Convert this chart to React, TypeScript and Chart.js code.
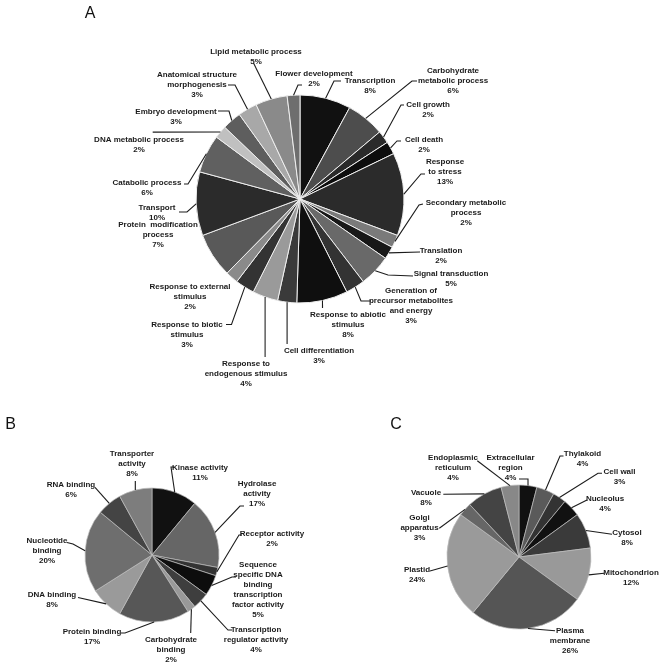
import React, { useEffect, useRef } from "react";
import { Chart, registerables } from "chart.js";

Chart.register(...registerables);

const W = 661;
const H = 668;

// ---------- Panel A : biological process ----------
const aCategories = [
  "Transcription",
  "Carbohydrate\nmetabolic process",
  "Cell growth",
  "Cell death",
  "Response\nto stress",
  "Secondary metabolic\nprocess",
  "Translation",
  "Signal transduction",
  "Generation of\nprecursor metabolites\nand energy",
  "Response to abiotic\nstimulus",
  "Cell differentiation",
  "Response to\nendogenous stimulus",
  "Response to biotic\nstimulus",
  "Response to external\nstimulus",
  "Protein  modification\nprocess",
  "Transport",
  "Catabolic process",
  "DNA metabolic process",
  "Embryo development",
  "Anatomical structure\nmorphogenesis",
  "Lipid metabolic process",
  "Flower development",
];
const aValues = [8, 6, 2, 2, 13, 2, 2, 5, 3, 8, 3, 4, 3, 2, 7, 10, 6, 2, 3, 3, 5, 2];
const aColors = [
  "#111111", "#4d4d4d", "#2a2a2a", "#0d0d0d", "#2b2b2b", "#7a7a7a", "#181818",
  "#696969", "#333333", "#0f0f0f", "#3a3a3a", "#9a9a9a", "#333333", "#8a8a8a",
  "#595959", "#2b2b2b", "#606060", "#c0c0c0", "#5e5e5e", "#a8a8a8", "#8a8a8a",
  "#6e6e6e",
];
// layout: label text centre (first line) and leader waypoints (page px)
const aLabelPos: number[][] = [
  [370, 80], [453, 70], [428, 104], [424, 139], [445, 161], [466, 202], [441, 250],
  [451, 273], [411, 290], [348, 314], [319, 350], [246, 363], [187, 324], [190, 286],
  [158, 224], [157, 207], [147, 182], [139, 139], [176, 111], [197, 74], [256, 51],
  [314, 73],
];
const aLeaders: number[][][] = [
  [[334, 81], [341, 81]],
  [[412, 81], [417, 81]],
  [[401, 105], [404, 105]],
  [[397, 141], [401, 141]],
  [[421, 174], [425, 174]],
  [[419, 205], [423, 204]],
  [[420, 252]],
  [[388, 275], [413, 276]],
  [[361, 301], [371, 301]],
  [[322.5, 308]],
  [[287.1, 344]],
  [[265.1, 357]],
  [[231.5, 324.5], [226, 324.5]],
  [],
  [],
  [[187, 212], [179, 212]],
  [[188, 184], [184, 184]],
  [[152.7, 132.1]],
  [[229, 111], [218, 111]],
  [[235, 85], [228, 85]],
  [[253.5, 63]],
  [[298, 85], [302, 85]],
];

// ---------- Panel B : molecular function ----------
const bCategories = [
  "Kinase activity",
  "Hydrolase\nactivity",
  "Receptor activity",
  "Sequence\nspecific DNA\nbinding\ntranscription\nfactor activity",
  "Transcription\nregulator activity",
  "Carbohydrate\nbinding",
  "Protein binding",
  "DNA binding",
  "Nucleotide\nbinding",
  "RNA binding",
  "Transporter\nactivity",
];
const bValues = [11, 17, 2, 5, 4, 2, 17, 8, 20, 6, 8];
const bColors = [
  "#111111", "#666666", "#333333", "#0d0d0d", "#3e3e3e", "#999999", "#575757",
  "#9a9a9a", "#6e6e6e", "#444444", "#7d7d7d",
];
const bLabelPos: number[][] = [
  [200, 467], [257, 483], [272, 533], [258, 564], [256, 629], [171, 639],
  [92, 631], [52, 594], [47, 540], [71, 484], [132, 453],
];
const bLeaders: number[][][] = [
  [[171, 467], [174, 467]],
  [[240, 506], [244, 506]],
  [[239, 535], [242, 535]],
  [[232, 577], [236, 577]],
  [[228, 630], [232, 630]],
  [[190.7, 633]],
  [[125, 633], [121, 633]],
  [[78, 597.5]],
  [[73, 544], [67, 542.5]],
  [[95, 487.3]],
  [[135.3, 481]],
];

// ---------- Panel C : cellular component ----------
const cCategories = [
  "Extracellular\nregion",
  "Thylakoid",
  "Cell wall",
  "Nucleolus",
  "Cytosol",
  "Mitochondrion",
  "Plasma\nmembrane",
  "Plastid",
  "Golgi\napparatus",
  "Vacuole",
  "Endoplasmic\nreticulum",
];
const cValues = [4, 4, 3, 4, 8, 12, 26, 24, 3, 8, 4];
const cColors = [
  "#111111", "#5a5a5a", "#333333", "#111111", "#3a3a3a", "#999999", "#555555",
  "#9a9a9a", "#666666", "#444444", "#888888",
];
const cLabelPos: number[][] = [
  [510.5, 457], [582.5, 453], [619.5, 471], [605, 498], [627, 532], [631, 572],
  [570, 630], [417, 569], [419.5, 517], [426, 492], [453, 457],
];
const cLeaders: number[][][] = [
  [[528, 479], [519, 479]],
  [[560, 456], [563.5, 456]],
  [[598, 473.3], [602, 473.3]],
  [[587, 500]],
  [[612, 534.3]],
  [[604, 573.3]],
  [[555, 630.7]],
  [[430, 571]],
  [[439.3, 528.3]],
  [[443.3, 494.3]],
  [[477.3, 460.7]],
];

type PieCfg = {
  panel: string;
  panelPos: number[];
  center: number[];
  radius: number;
  categories: string[];
  values: number[];
  colors: string[];
  labelPos: number[][];
  leaders: number[][][];
  borderColor: string;
  borderWidth: number;
};

const panels: PieCfg[] = [
  {
    panel: "A", panelPos: [90, 12.5], center: [300, 199], radius: 104,
    categories: aCategories, values: aValues, colors: aColors,
    labelPos: aLabelPos, leaders: aLeaders, borderColor: "#eeeeee", borderWidth: 1,
  },
  {
    panel: "B", panelPos: [10.5, 423], center: [152, 555], radius: 67,
    categories: bCategories, values: bValues, colors: bColors,
    labelPos: bLabelPos, leaders: bLeaders, borderColor: "#bdbdbd", borderWidth: 0.7,
  },
  {
    panel: "C", panelPos: [396, 423], center: [519, 557], radius: 72,
    categories: cCategories, values: cValues, colors: cColors,
    labelPos: cLabelPos, leaders: cLeaders, borderColor: "#bdbdbd", borderWidth: 0.7,
  },
];

const FONT = '"Liberation Sans", Arial, Helvetica, sans-serif';

function makeLabelPlugin(cfg: PieCfg) {
  return {
    id: "pieLabels" + cfg.panel,
    afterDatasetsDraw(chart: any) {
      const ctx: CanvasRenderingContext2D = chart.ctx;
      const meta = chart.getDatasetMeta(0);
      ctx.save();
      ctx.strokeStyle = "#1c1c1c";
      ctx.lineWidth = 1.1;
      ctx.fillStyle = "#1a1a1a";
      ctx.textAlign = "center";
      ctx.textBaseline = "alphabetic";
      ctx.font = "bold 8px " + FONT;
      meta.data.forEach((arc: any, i: number) => {
        const p = arc.getProps(["x", "y", "startAngle", "endAngle", "outerRadius"], true);
        const mid = (p.startAngle + p.endAngle) / 2;
        const sx = p.x + Math.cos(mid) * p.outerRadius;
        const sy = p.y + Math.sin(mid) * p.outerRadius;
        const pts = cfg.leaders[i];
        if (pts && pts.length) {
          ctx.beginPath();
          ctx.moveTo(sx, sy);
          pts.forEach((q) => ctx.lineTo(q[0], q[1]));
          ctx.stroke();
        }
        const lines = cfg.categories[i].split("\n").concat([cfg.values[i] + "%"]);
        const [lx, ly] = cfg.labelPos[i];
        lines.forEach((t, k) => {
          ctx.fillText(t, lx, ly + k * 10 + 3);
        });
      });
      ctx.font = "16px " + FONT;
      ctx.fillStyle = "#111111";
      ctx.fillText(cfg.panel, cfg.panelPos[0], cfg.panelPos[1] + 5.7);
      ctx.restore();
    },
  };
}

function PiePanel({ cfg }: { cfg: PieCfg }) {
  const ref = useRef<HTMLCanvasElement>(null);
  useEffect(() => {
    const canvas = ref.current;
    if (!canvas) return;
    const [cx, cy] = cfg.center;
    const r = cfg.radius;
    const chart = new Chart(canvas, {
      type: "pie",
      data: {
        labels: cfg.categories.map((c) => c.replace(/\n/g, " ")),
        datasets: [
          {
            data: cfg.values,
            backgroundColor: cfg.colors,
            borderColor: cfg.borderColor,
            borderWidth: cfg.borderWidth,
          },
        ],
      },
      options: {
        responsive: false,
        animation: false,
        devicePixelRatio: 1,
        radius: r,
        layout: {
          padding: {
            left: cx - r,
            right: W - (cx + r),
            top: cy - r,
            bottom: H - (cy + r),
          },
        },
        plugins: {
          legend: { display: false },
          tooltip: { enabled: false },
        },
        events: [],
      } as any,
      plugins: [makeLabelPlugin(cfg)],
    });
    return () => chart.destroy();
  }, [cfg]);
  return (
    <canvas
      ref={ref}
      width={W}
      height={H}
      style={{ position: "absolute", left: 0, top: 0, width: W, height: H }}
    />
  );
}

export default function App() {
  return (
    <div
      style={{
        position: "absolute",
        left: 0,
        top: 0,
        width: W,
        height: H,
        background: "#ffffff",
        overflow: "hidden",
      }}
    >
      {panels.map((p) => (
        <PiePanel key={p.panel} cfg={p} />
      ))}
    </div>
  );
}
